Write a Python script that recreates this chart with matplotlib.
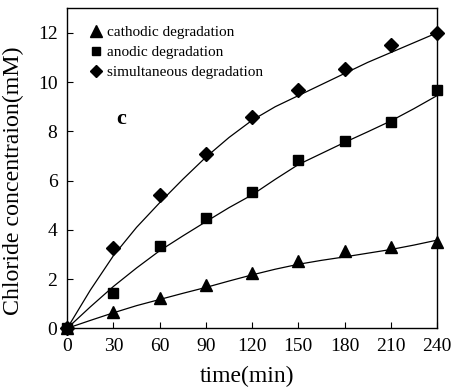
import numpy as np
import matplotlib
matplotlib.use("Agg")
import matplotlib.pyplot as plt
from matplotlib.lines import Line2D

plt.rcParams['font.family'] = ['Liberation Serif', 'DejaVu Serif']

# measured points
t = [0, 30, 60, 90, 120, 150, 180, 210, 240]
cathodic = [0, 0.65, 1.25, 1.76, 2.24, 2.75, 3.12, 3.32, 3.50]
anodic = [0, 1.42, 3.36, 4.47, 5.52, 6.83, 7.59, 8.39, 9.69]
simult = [0, 3.25, 5.42, 7.09, 8.58, 9.67, 10.54, 11.50, 12.00]

# fitted curves, read every 15 min
t_fit = [0, 15, 30, 45, 60, 75, 90, 105, 120, 135, 150, 165, 180, 195, 210, 225, 240]
cathodic_fit = [0, 0.32, 0.63, 0.92, 1.17, 1.42, 1.66, 1.92, 2.17, 2.40, 2.60, 2.76, 2.90, 3.05, 3.20, 3.38, 3.58]
anodic_fit = [0, 0.87, 1.70, 2.45, 3.15, 3.75, 4.33, 4.90, 5.42, 6.05, 6.65, 7.10, 7.55, 7.98, 8.42, 8.92, 9.45]
simult_fit = [0, 1.55, 2.95, 4.10, 5.10, 6.05, 6.95, 7.75, 8.45, 9.00, 9.45, 9.90, 10.35, 10.80, 11.20, 11.60, 12.00]

labels = ['cathodic degradation', 'anodic degradation', 'simultaneous degradation']

fig = plt.figure(figsize=(4.51, 3.92), dpi=100)
ax = fig.add_axes([0.149, 0.1625, 0.82, 0.8165])

ax.plot(t_fit, cathodic_fit, color='black', lw=0.9)
ax.plot(t_fit, anodic_fit, color='black', lw=0.9)
ax.plot(t_fit, simult_fit, color='black', lw=0.9)

ax.plot(t, cathodic, '^', color='black', ms=8, clip_on=False)
ax.plot(t, anodic, 's', color='black', ms=7, clip_on=False)
ax.plot(t, simult, 'D', color='black', ms=7, clip_on=False)

ax.set_xlim(0, 240)
ax.set_ylim(0, 13)
ax.set_xticks(t)
ax.set_yticks([0, 2, 4, 6, 8, 10, 12])
ax.tick_params(direction='in', labelsize=14, length=4, width=0.8, pad=7)
for s in ax.spines.values():
    s.set_linewidth(1.0)

ax.set_xlabel('time(min)', fontsize=17)
ax.set_ylabel('Chloride concentraion(mM)', fontsize=17.2)
ax.xaxis.set_label_coords(0.487, -0.118)
ax.yaxis.set_label_coords(-0.118, 0.46)

ax.text(32, 8.3, 'c', fontsize=16, fontweight='bold')

handles = [Line2D([], [], ls='none', marker='^', color='black', ms=8),
           Line2D([], [], ls='none', marker='s', color='black', ms=6),
           Line2D([], [], ls='none', marker='D', color='black', ms=6)]
ax.legend(handles, labels, loc='upper left', bbox_to_anchor=(0.04, 0.975),
          frameon=False, fontsize=11, handlelength=0.6, handletextpad=0.45,
          labelspacing=0.42, borderaxespad=0.2)

fig.savefig('out.png', dpi=100)
